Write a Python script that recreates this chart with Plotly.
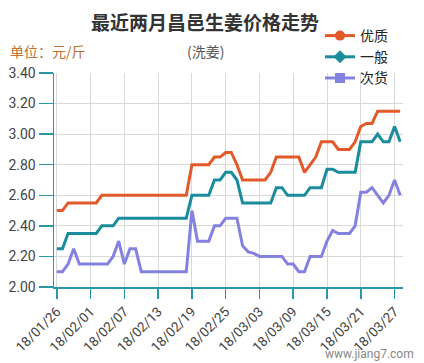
import plotly.graph_objects as go
import pandas as pd

dates = [d.strftime("%y/%m/%d") for d in pd.date_range("2018-01-26", "2018-03-28", freq="D")]

youzhi = [2.50, 2.50,
          2.55, 2.55, 2.55, 2.55, 2.55, 2.55,
          2.60, 2.60, 2.60, 2.60, 2.60, 2.60, 2.60, 2.60, 2.60, 2.60, 2.60, 2.60, 2.60, 2.60, 2.60, 2.60,
          2.80, 2.80, 2.80, 2.80,
          2.85, 2.85, 2.88, 2.88, 2.80,
          2.70, 2.70, 2.70, 2.70, 2.70, 2.75,
          2.85, 2.85, 2.85, 2.85, 2.85,
          2.75, 2.80, 2.85,
          2.95, 2.95, 2.95,
          2.90, 2.90, 2.90, 2.95,
          3.05, 3.07, 3.07,
          3.15, 3.15, 3.15, 3.15, 3.15]

yiban = [2.25, 2.25,
         2.35, 2.35, 2.35, 2.35, 2.35, 2.35,
         2.40, 2.40, 2.40,
         2.45, 2.45, 2.45, 2.45, 2.45, 2.45, 2.45, 2.45, 2.45, 2.45, 2.45, 2.45, 2.45,
         2.60, 2.60, 2.60, 2.60,
         2.70, 2.70, 2.75, 2.75, 2.70,
         2.55, 2.55, 2.55, 2.55, 2.55, 2.55,
         2.65, 2.65,
         2.60, 2.60, 2.60, 2.60,
         2.65, 2.65, 2.65,
         2.77, 2.77,
         2.75, 2.75, 2.75, 2.75,
         2.95, 2.95, 2.95,
         3.00, 2.95, 2.95, 3.05, 2.95]

cihuo = [2.10, 2.10, 2.15, 2.25,
         2.15, 2.15, 2.15, 2.15, 2.15, 2.15,
         2.20, 2.30, 2.15, 2.25, 2.25,
         2.10, 2.10, 2.10, 2.10, 2.10, 2.10, 2.10, 2.10, 2.10,
         2.50, 2.30, 2.30, 2.30,
         2.40, 2.40, 2.45, 2.45, 2.45,
         2.27, 2.23, 2.22,
         2.20, 2.20, 2.20, 2.20, 2.20,
         2.15, 2.15, 2.10, 2.10,
         2.20, 2.20, 2.20,
         2.30, 2.37, 2.35, 2.35, 2.35, 2.40,
         2.62, 2.62, 2.65, 2.60, 2.55, 2.60, 2.70, 2.60]

series_names = ["优质", "一般", "次货"]
series_values = [youzhi, yiban, cihuo]
colors = ["#E2592A", "#1A8C9C", "#8482E0"]
symbols = ["circle", "diamond", "square"]

tick_idx = list(range(0, len(dates), 6))
tick_labels = [dates[i] for i in tick_idx]
y_ticks = [2.00, 2.20, 2.40, 2.60, 2.80, 3.00, 3.20, 3.40]

FONT = "Roboto, 'Noto Sans CJK SC', sans-serif"
CJK = "'Noto Sans CJK SC', sans-serif"

fig = go.Figure()
xs = list(range(len(dates)))
for name, vals, c in zip(series_names, series_values, colors):
    fig.add_trace(go.Scatter(x=xs, y=vals, mode="lines", name=name,
                             line=dict(color=c, width=3), showlegend=False,
                             hoverinfo="skip"))
for name, c, s in zip(series_names, colors, symbols):
    fig.add_trace(go.Scatter(x=[None], y=[None], mode="lines+markers", name=name,
                             line=dict(color=c, width=3),
                             marker=dict(color=c, symbol=s, size=10)))

AX = "#2A97A8"
fig.update_layout(
    width=424, height=363,
    margin=dict(l=54, r=21, t=73, b=76),
    paper_bgcolor="white", plot_bgcolor="white",
    font=dict(family=FONT, color="#444"),
    title=dict(text="<b>最近两月昌邑生姜价格走势</b>", x=205/424, xanchor="center",
               y=1-23/363, yanchor="middle",
               font=dict(family=CJK, size=19, color="#333")),
    xaxis=dict(range=[-0.5, len(dates)-0.5], tickmode="array", tickvals=tick_idx,
               ticktext=tick_labels, tickangle=-45, showgrid=True, gridcolor="#D9D9D9",
               gridwidth=1, showline=True, linecolor=AX, linewidth=1.5,
               ticks="outside", ticklen=10, tickcolor=AX, tickwidth=1.5,
               tickfont=dict(size=13.5, color="#444"), zeroline=False, fixedrange=True,
               automargin=False),
    yaxis=dict(range=[2.0, 3.4], tickmode="array", tickvals=y_ticks,
               ticktext=[f"{v:.2f}" for v in y_ticks], showgrid=True, gridcolor="#D9D9D9",
               gridwidth=1, showline=True, linecolor=AX, linewidth=1.5,
               ticks="outside", ticklen=14, tickcolor=AX, tickwidth=1.5,
               tickfont=dict(size=14, color="#444"), zeroline=False, fixedrange=True,
               automargin=False),
    legend=dict(x=(320-54)/349, y=(287-20)/214, xanchor="left", yanchor="top",
                bgcolor="rgba(0,0,0,0)", font=dict(family=CJK, size=14, color="#222"),
                itemwidth=30, tracegroupgap=0),
    showlegend=True,
)

fig.add_annotation(text="单位：元/斤", xref="paper", yref="paper",
                   x=(8-54)/349, y=(287-51)/214, xanchor="left", yanchor="middle",
                   showarrow=False, font=dict(family=CJK, size=14, color="#C0702E"))
fig.add_annotation(text="(洗姜)", xref="paper", yref="paper",
                   x=(205-54)/349, y=(287-51)/214, xanchor="center", yanchor="middle",
                   showarrow=False, font=dict(family=CJK, size=14, color="#555"))
fig.add_annotation(text="www.jiang7.com", xref="paper", yref="paper",
                   x=(416-54)/349, y=(287-354)/214, xanchor="right", yanchor="middle",
                   showarrow=False, font=dict(family="Roboto, sans-serif", size=12, color="#888"))

fig.write_html("out.html", config={"displayModeBar": False, "staticPlot": True},
               post_script="document.body.style.margin='0';document.body.style.overflow='hidden';")
